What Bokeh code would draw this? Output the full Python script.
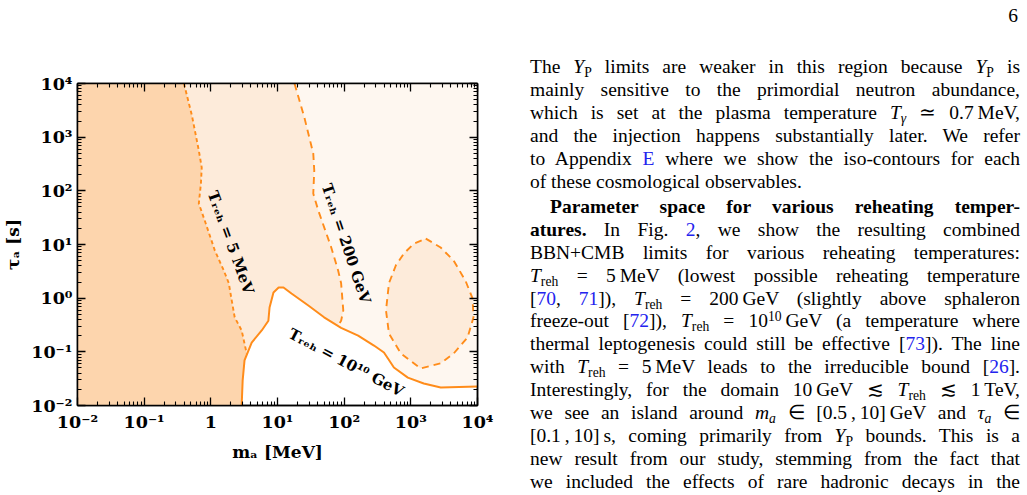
from bokeh.plotting import figure
from bokeh.models import FixedTicker, LogAxis, Div
from bokeh.layouts import row
from bokeh.core.properties import value
from bokeh.embed import file_html
from bokeh.resources import INLINE

# ---------------- data ----------------
X_MIN, X_MAX = 1e-2, 1e4
Y_MIN, Y_MAX = 1e-2, 1e4

major_ticks = [1e-2, 1e-1, 1.0, 10.0, 100.0, 1000.0, 10000.0]
x_tick_labels = ["10⁻²", "10⁻¹", "1", "10¹", "10²", "10³", "10⁴"]
y_tick_labels = ["10⁻²", "10⁻¹", "10⁰", "10¹", "10²", "10³", "10⁴"]

# T_reh = 5 MeV boundary (short dashes)
m_5mev = [0.395, 0.52, 0.66, 0.73, 0.71, 0.66, 0.81, 1.15, 1.56, 1.86, 2.06, 2.28, 2.9, 3.45]
tau_5mev = [1e4, 2540, 565, 272, 137, 58, 28, 7.7, 3.3, 1.9, 0.9, 0.44, 0.25, 0.093]

# T_reh = 200 GeV boundary (long dashes)
m_200gev = [18, 25.3, 34.4, 35.6, 34.4, 40.9, 64, 81, 90, 97, 90, 81]
tau_200gev = [1e4, 2320, 497, 239, 89, 43, 8.8, 3.3, 1.9, 0.59, 0.38, 0.31]

# T_reh = 10^10 GeV boundary (solid)
m_1e10 = [2.9, 3.0, 3.2, 4.1, 5.8, 7.3, 7.6, 8.7, 10.4, 12.3, 16.2, 29, 50, 90, 162,
          280, 395, 454, 557, 902, 1563, 2810, 1e4]
tau_1e10 = [0.01, 0.029, 0.069, 0.149, 0.25, 0.38, 0.67, 1.28, 1.58, 1.58, 1.22, 0.73,
            0.44, 0.28, 0.20, 0.131, 0.097, 0.075, 0.051, 0.033, 0.0257, 0.0217, 0.0226]

# island (closed dashed contour)
m_island = [1675, 2800, 4390, 6620, 8420, 8710, 7090, 4390, 2800, 1410, 710, 470, 424,
            470, 597, 787, 1110]
tau_island = [12.9, 8.8, 5.0, 2.1, 0.99, 0.44, 0.185, 0.093, 0.061, 0.049, 0.093, 0.22,
              0.59, 1.9, 4.1, 6.8, 10.4]

label_texts = ["Tᵣₑₕ = 5 MeV", "Tᵣₑₕ = 200 GeV", "Tᵣₑₕ = 10¹⁰ GeV"]
label_m = [1.99, 107, 107]
label_tau = [10.9, 10.4, 0.063]
label_angle = [-70, -71.5, -28]

DARK = "#FDD5AD"
MED = "#FDEBDA"
LIGHT = "#FEF7F0"
ORANGE = "#FF8C1A"
FONT = "DejaVu Serif"

# ---------------- figure ----------------
p = figure(width=510, height=495, x_axis_type="log", y_axis_type="log",
           x_range=(X_MIN, X_MAX), y_range=(Y_MIN, Y_MAX),
           output_backend="svg", toolbar_location=None,
           min_border_left=75, min_border_right=33, min_border_top=83, min_border_bottom=90)
p.grid.visible = False
p.background_fill_color = "white"
p.border_fill_color = "white"
p.outline_line_color = "black"
p.outline_line_width = 1.5

minor = [j * t for t in major_ticks[:-1] for j in range(2, 10)]

def style_axis(ax, labels=None):
    ax.ticker = FixedTicker(ticks=major_ticks, minor_ticks=minor)
    ax.major_tick_in = 8
    ax.major_tick_out = 0
    ax.minor_tick_in = 4
    ax.minor_tick_out = 0
    ax.axis_line_width = 1.5
    ax.major_tick_line_width = 1.3
    ax.minor_tick_line_width = 1.1
    ax.axis_line_color = "black"
    ax.major_tick_line_color = "black"
    ax.minor_tick_line_color = "black"
    if labels is None:
        ax.major_label_text_color = None
        ax.major_label_text_font_size = "6px"
        ax.major_label_standoff = 0
    else:
        ax.major_label_overrides = {t: l for t, l in zip(major_ticks, labels)}
        ax.major_label_text_font = FONT
        ax.major_label_text_font_style = "bold"
        ax.major_label_text_font_size = "17.5px"
        ax.major_label_text_color = "black"
        ax.major_label_standoff = 6
        ax.axis_label_text_font = FONT
        ax.axis_label_text_font_style = "bold"
        ax.axis_label_text_font_size = "17px"
        ax.axis_label_text_color = "black"
        ax.axis_label_standoff = 7

style_axis(p.xaxis[0], x_tick_labels)
style_axis(p.yaxis[0], y_tick_labels)
p.xaxis[0].axis_label = "mₐ [MeV]"
p.yaxis[0].axis_label = "τₐ [s]"
p.yaxis[0].major_label_standoff = 5
p.yaxis[0].axis_label_standoff = 5

top_ax = LogAxis()
right_ax = LogAxis()
style_axis(top_ax)
style_axis(right_ax)
p.add_layout(top_ax, "above")
p.add_layout(right_ax, "right")

# ---- regions ----
# everything above the solid line
light_x = [X_MIN, X_MAX] + m_1e10[::-1] + [X_MIN]
light_y = [Y_MAX, Y_MAX] + tau_1e10[::-1] + [Y_MIN]
p.patch(light_x, light_y, fill_color=LIGHT, line_color=None)

# between 5 MeV and 200 GeV lines, above solid line
seg = [(m, t) for m, t in zip(m_1e10, tau_1e10) if m_5mev[-1] < m < m_200gev[-1]]
med_x = m_5mev + [s[0] for s in seg] + m_200gev[::-1]
med_y = tau_5mev + [s[1] for s in seg] + tau_200gev[::-1]
p.patch(med_x, med_y, fill_color=MED, line_color=None)

# left of 5 MeV line
low = [(m, t) for m, t in zip(m_1e10, tau_1e10) if m < m_5mev[-1]]
dark_x = [X_MIN] + m_5mev + [s[0] for s in low[::-1]] + [X_MIN]
dark_y = [Y_MAX] + tau_5mev + [s[1] for s in low[::-1]] + [Y_MIN]
p.patch(dark_x, dark_y, fill_color=DARK, line_color=None)

p.patch(m_island, tau_island, fill_color=MED, line_color=None)

# ---- lines ----
p.line(m_5mev, tau_5mev, line_color=ORANGE, line_width=1.9, line_dash="4 3")
p.line(m_200gev, tau_200gev, line_color=ORANGE, line_width=1.9, line_dash="7 5")
p.line(m_island + m_island[:1], tau_island + tau_island[:1], line_color=ORANGE,
       line_width=1.9, line_dash="7 5")
p.line(m_1e10, tau_1e10, line_color=ORANGE, line_width=2)

p.text(x=label_m, y=label_tau, text=label_texts, angle=label_angle, angle_units="deg",
       text_font=value(FONT), text_font_style="bold", text_font_size="15px",
       text_color="black", text_align="center", text_baseline="middle")

# ---------------- text column ----------------
def B(s):
    return '<span style="color:#2323ee">' + s + '</span>'

def sub(s, it=False):
    inner = '<i>' + s + '</i>' if it else s
    return ('<span style="font-size:70%;position:relative;top:0.3em;line-height:0">'
            + inner + '</span>')

def sup(s):
    return ('<span style="font-size:70%;position:relative;top:-0.45em;line-height:0">'
            + s + '</span>')

NS = '&#8239;'
T = '<i>T</i>' + sub('reh')

para1 = [
    'The <i>Y</i>' + sub('P') + ' limits are weaker in this region because <i>Y</i>' + sub('P') + ' is',
    'mainly sensitive to the primordial neutron abundance,',
    'which is set at the plasma temperature <i>T</i>' + sub('γ', True) + ' ≃ 0.7' + NS + 'MeV,',
    'and the injection happens substantially later.  We refer',
    'to Appendix ' + B('E') + ' where we show the iso-contours for each',
    'of these cosmological observables.',
]
para2 = [
    '<b>Parameter space for various reheating temper-</b>',
    '<b>atures.</b>  In Fig. ' + B('2') + ', we show the resulting combined',
    'BBN+CMB limits for various reheating temperatures:',
    T + ' = 5' + NS + 'MeV (lowest possible reheating temperature',
    '[' + B('70') + ', ' + B('71') + ']), ' + T + ' = 200' + NS + 'GeV (slightly above sphaleron',
    'freeze-out [' + B('72') + ']), ' + T + ' = 10' + sup('10') + NS + 'GeV (a temperature where',
    'thermal leptogenesis could still be effective [' + B('73') + ']).  The line',
    'with ' + T + ' = 5' + NS + 'MeV leads to the irreducible bound [' + B('26') + '].',
    'Interestingly, for the domain 10' + NS + 'GeV ≲ ' + T + ' ≲ 1' + NS + 'TeV,',
    'we see an island around <i>m</i>' + sub('a', True) + ' ∈ [0.5' + NS + ',' + NS + '10]' + NS
    + 'GeV and <i>τ</i>' + sub('a', True) + ' ∈',
    '[0.1' + NS + ',' + NS + '10]' + NS + 's, coming primarily from <i>Y</i>' + sub('P')
    + ' bounds.  This is a',
    'new result from our study, stemming from the fact that',
    'we included the effects of rare hadronic decays in the',
]

html = ['<div style="position:relative;width:517px;height:495px;'
        "font-family:'Liberation Serif',serif;font-size:19.5px;line-height:23px;color:#000;\">"]
html.append('<div style="position:absolute;top:4px;right:9px;">6</div>')

def line_div(content, top, justify=True, indent=0):
    st = ('position:absolute;left:%dpx;width:%dpx;top:%.1fpx;white-space:normal;'
          % (20 + indent, 490 - indent, top))
    if justify:
        st += 'text-align:justify;text-align-last:justify;'
    else:
        st += 'text-align:left;'
    return '<div style="' + st + '">' + content + '</div>'

for i, ln in enumerate(para1):
    top = 67 + 23.0 * i - 12.2
    html.append(line_div(ln, top, justify=(i < len(para1) - 1)))
for i, ln in enumerate(para2):
    top = 207 + 22.92 * i - 12.2
    html.append(line_div(ln, top, justify=True, indent=(20 if i == 0 else 0)))
html.append('</div>')

div = Div(text="".join(html), width=517, height=495, margin=(0, 0, 0, 0))

layout = row(p, div)
open("out.html", "w").write(file_html(layout, INLINE))
